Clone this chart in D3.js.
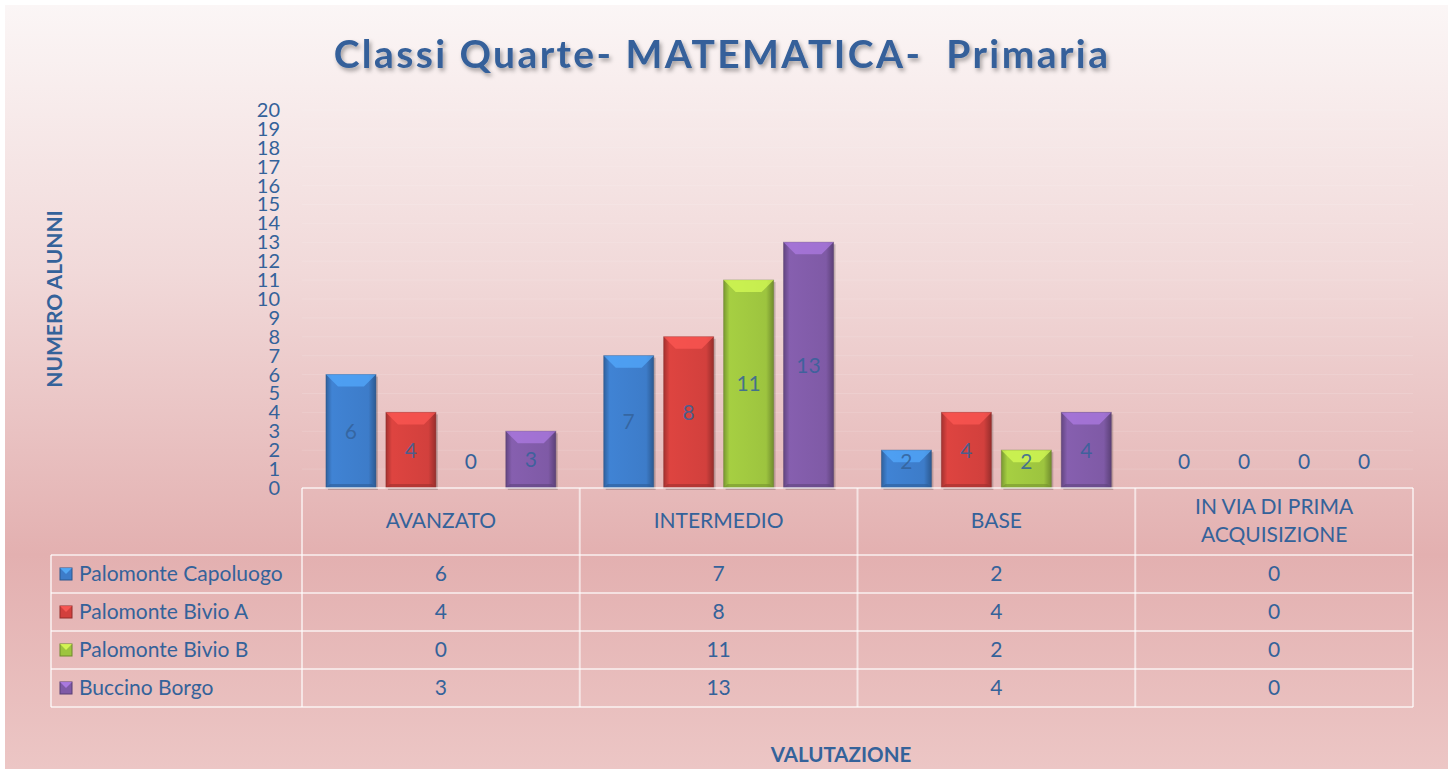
<!DOCTYPE html>
<html>
<head>
<meta charset="utf-8">
<script src="https://cdn.jsdelivr.net/npm/d3@7"></script>
<style>
  html, body { margin: 0; padding: 0; background: #fff; }
  svg { display: block; font-family: Lato, "Open Sans", sans-serif; }
</style>
</head>
<body>
<script>
const categories = ['AVANZATO', 'INTERMEDIO', 'BASE', 'IN VIA DI PRIMA ACQUISIZIONE'];
const categoryLines = [['AVANZATO'], ['INTERMEDIO'], ['BASE'], ['IN VIA DI PRIMA', 'ACQUISIZIONE']];
const seriesNames = ['Palomonte Capoluogo', 'Palomonte Bivio A', 'Palomonte Bivio B', 'Buccino Borgo'];
const capoluogo = [6, 7, 2, 0];
const bivioA = [4, 8, 4, 0];
const bivioB = [0, 11, 2, 0];
const buccino = [3, 13, 4, 0];
const seriesValues = [capoluogo, bivioA, bivioB, buccino];
const yTicks = d3.range(0, 21);

const colors = ['#3d7cc9', '#d2403d', '#9dc43f', '#7f5aa6'];
const textColor = '#34629a';
const fs = 21;

const W = 1448, H = 769;
const svg = d3.select('body').append('svg').attr('width', W).attr('height', H);
const defs = svg.append('defs');

// background gradient
const bg = defs.append('linearGradient').attr('id', 'bg').attr('x1', 0).attr('y1', 0).attr('x2', 0).attr('y2', 1);
bg.append('stop').attr('offset', '0%').attr('stop-color', '#fbf6f6');
bg.append('stop').attr('offset', '35%').attr('stop-color', '#f1d9d9');
bg.append('stop').attr('offset', '72%').attr('stop-color', '#e3b0b0');
bg.append('stop').attr('offset', '100%').attr('stop-color', '#ecc6c5');
svg.append('rect').attr('x', 5).attr('y', 5).attr('width', W - 5).attr('height', H - 5).attr('fill', 'url(#bg)');

// title shadow
const sh = defs.append('filter').attr('id', 'shadow').attr('x', '-5%').attr('y', '-30%').attr('width', '110%').attr('height', '160%');
sh.append('feDropShadow').attr('dx', 2).attr('dy', 3).attr('stdDeviation', 2).attr('flood-color', '#000').attr('flood-opacity', 0.35);

// bar gradients
colors.forEach((c, i) => {
  const g = defs.append('linearGradient').attr('id', 'bar' + i).attr('x1', 0).attr('y1', 0).attr('x2', 1).attr('y2', 0);
  g.append('stop').attr('offset', '0%').attr('stop-color', d3.color(c).darker(0.7));
  g.append('stop').attr('offset', '12%').attr('stop-color', d3.color(c).brighter(0.15));
  g.append('stop').attr('offset', '85%').attr('stop-color', c);
  g.append('stop').attr('offset', '100%').attr('stop-color', d3.color(c).darker(0.9));
});

const x0 = d3.scaleBand().domain(categories).range([302, 1413]);
const x1 = d3.scaleBand().domain(d3.range(seriesNames.length)).range([0, x0.bandwidth()])
  .paddingInner(0.167).paddingOuter(0.4);
const y = d3.scaleLinear().domain([0, 20]).range([488, 110]);

// title
svg.append('text')
  .attr('x', 722).attr('y', 68)
  .attr('text-anchor', 'middle')
  .attr('font-size', 39).attr('font-weight', 'bold')
  .attr('letter-spacing', 2.4)
  .attr('fill', '#35609a')
  .attr('filter', 'url(#shadow)')
  .style('white-space', 'pre')
  .text('Classi Quarte- MATEMATICA-  Primaria');

// faint gridlines
svg.append('g').selectAll('line').data(yTicks.slice(1)).join('line')
  .attr('x1', 302).attr('x2', 1413)
  .attr('y1', d => y(d)).attr('y2', d => y(d))
  .attr('stroke', '#ffffff').attr('stroke-opacity', 0.13).attr('stroke-width', 1);

// y axis
const yAxis = svg.append('g').attr('transform', 'translate(284,0)')
  .call(d3.axisLeft(y).tickValues(yTicks).tickSize(0).tickPadding(4).tickFormat(d3.format('d')));
yAxis.select('.domain').remove();
yAxis.selectAll('text').attr('font-size', 20).attr('fill', textColor).attr('font-family', 'Lato, sans-serif');

// y title
svg.append('text')
  .attr('transform', 'translate(62,299) rotate(-90)')
  .attr('text-anchor', 'middle')
  .attr('font-size', 21).attr('font-weight', 'bold').attr('fill', textColor)
  .text('NUMERO ALUNNI');

// bars
const bars = [];
categories.forEach((cat, ci) => {
  seriesValues.forEach((vals, si) => bars.push({ cat, ci, si, v: vals[ci] }));
});

const barG = svg.append('g');
const bw = x1.bandwidth();
bars.forEach(d => {
  const bx = x0(d.cat) + x1(d.si);
  const by = y(d.v);
  const bh = y(0) - by;
  const g = barG.append('g');
  if (d.v > 0) {
    const c = d3.color(colors[d.si]);
    g.append('rect').attr('x', bx + 2).attr('y', by + 2).attr('width', bw).attr('height', bh)
      .attr('fill', '#000').attr('opacity', 0.18);
    g.append('rect').attr('x', bx).attr('y', by).attr('width', bw).attr('height', bh)
      .attr('fill', `url(#bar${d.si})`).attr('stroke', c.darker(1.2)).attr('stroke-opacity', 0.5);
    const b = Math.min(12, bh / 2);
    // top bevel
    g.append('path')
      .attr('d', `M${bx},${by}L${bx + bw},${by}L${bx + bw - b},${by + b}L${bx + b},${by + b}Z`)
      .attr('fill', c.brighter(0.9)).attr('opacity', 0.7);
    // bottom bevel
    g.append('path')
      .attr('d', `M${bx},${by + bh}L${bx + bw},${by + bh}L${bx + bw - 4},${by + bh - 4}L${bx + 4},${by + bh - 4}Z`)
      .attr('fill', c.darker(0.8)).attr('opacity', 0.6);
  }
  g.append('text')
    .attr('x', bx + bw / 2)
    .attr('y', Math.min(by + bh / 2, y(0) - 26))
    .attr('dy', '0.35em')
    .attr('text-anchor', 'middle')
    .attr('font-size', fs).attr('fill', textColor).attr('fill-opacity', d.v > 0 ? 0.85 : 1)
    .text(d.v);
});

// data table
const rowTops = [488, 555, 593, 631, 669, 707];
const line = 'rgba(255,255,255,0.6)';
const tbl = svg.append('g').attr('stroke', line).attr('stroke-width', 2);
// horizontal lines
tbl.append('line').attr('x1', 302).attr('x2', 1413).attr('y1', 488).attr('y2', 488);
rowTops.slice(1).forEach(t => tbl.append('line').attr('x1', 51).attr('x2', 1413).attr('y1', t).attr('y2', t));
// vertical lines
tbl.append('line').attr('x1', 51).attr('x2', 51).attr('y1', 555).attr('y2', 707);
categories.forEach(c => tbl.append('line').attr('x1', x0(c)).attr('x2', x0(c)).attr('y1', 488).attr('y2', 707));
tbl.append('line').attr('x1', 1413).attr('x2', 1413).attr('y1', 488).attr('y2', 707);

// header texts
categories.forEach((c, ci) => {
  const lines = categoryLines[ci];
  const cy = 521;
  const t = svg.append('text').attr('text-anchor', 'middle').attr('font-size', fs).attr('fill', textColor);
  lines.forEach((ln, li) => {
    t.append('tspan').attr('x', x0(c) + x0.bandwidth() / 2)
      .attr('y', cy + (li - (lines.length - 1) / 2) * 28)
      .attr('dy', '0.35em').text(ln);
  });
});

// rows
seriesNames.forEach((name, si) => {
  const cy = (rowTops[si + 1] + rowTops[si + 2]) / 2;
  const c = d3.color(colors[si]);
  const mk = svg.append('g');
  mk.append('rect').attr('x', 60).attr('y', cy - 6).attr('width', 12).attr('height', 12)
    .attr('fill', c).attr('stroke', c.darker(1)).attr('stroke-width', 1);
  mk.append('path').attr('d', `M60,${cy - 6}L72,${cy - 6}L66,${cy}Z`).attr('fill', c.brighter(1)).attr('opacity', 0.8);
  svg.append('text').attr('x', 79).attr('y', cy).attr('dy', '0.35em')
    .attr('font-size', fs).attr('fill', textColor).text(name);
  categories.forEach((cat, ci) => {
    svg.append('text').attr('x', x0(cat) + x0.bandwidth() / 2).attr('y', cy).attr('dy', '0.35em')
      .attr('text-anchor', 'middle').attr('font-size', fs).attr('fill', textColor)
      .text(seriesValues[si][ci]);
  });
});

// x title
svg.append('text')
  .attr('x', 841).attr('y', 755).attr('dy', '0.35em')
  .attr('text-anchor', 'middle')
  .attr('font-size', 20.5).attr('font-weight', 'bold').attr('fill', textColor)
  .text('VALUTAZIONE');
</script>
</body>
</html>
